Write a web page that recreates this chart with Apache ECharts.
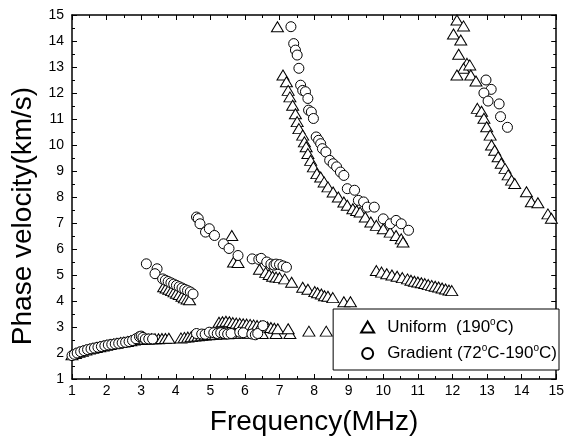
<!DOCTYPE html>
<html><head><meta charset="utf-8">
<script src="https://cdn.jsdelivr.net/npm/echarts@6/dist/echarts.min.js"></script>
<style>html,body{margin:0;padding:0;background:#fff}#c{width:567px;height:443px}</style>
</head><body><div id="c"></div><script>
const xTicks = {min: 1, max: 15, step: 1};
const yTicks = {min: 1, max: 15, step: 1};
const xTitle = 'Frequency(MHz)';
const yTitle = 'Phase velocity(km/s)';
const seriesNames = ['Uniform', 'Gradient'];

const uniformData = [
  [1.0,1.93],[1.1,1.98],[1.2,2.03],[1.3,2.07],[1.4,2.11],[1.5,2.15],[1.6,2.18],[1.7,2.21],[1.8,2.24],[1.9,2.27],
  [2.0,2.3],[2.1,2.33],[2.2,2.35],[2.3,2.37],[2.4,2.4],[2.5,2.42],[2.6,2.44],[2.7,2.47],[2.8,2.5],[2.9,2.52],
  [3.0,2.53],[3.1,2.54],[3.2,2.54],[3.3,2.55],[3.4,2.55],[3.5,2.55],[3.6,2.56],[3.7,2.56],[3.8,2.57],
  [4.15,2.58],[4.25,2.6],[4.35,2.61],[4.45,2.63],[4.55,2.65],[4.65,2.66],[4.75,2.68],[4.85,2.69],[4.95,2.7],
  [5.05,2.71],[5.15,2.72],[5.3,2.73],[5.5,2.74],[5.7,2.75],[5.9,2.76],[6.1,2.76],[6.3,2.77],[6.5,2.75],
  [6.9,2.75],[7.3,2.75],[7.85,2.84],[8.35,2.84],
  [5.25,3.18],[5.35,3.2],[5.45,3.22],[5.55,3.2],[5.65,3.17],[5.75,3.15],[5.85,3.14],[5.95,3.12],[6.05,3.11],
  [6.15,3.1],[6.25,3.08],[6.35,3.06],[6.45,3.04],[6.55,3.02],[6.65,3.0],[6.75,2.98],[6.85,2.95],[6.95,2.93],[7.25,2.93],
  [3.65,4.55],[3.72,4.5],[3.8,4.45],[3.88,4.4],[3.95,4.35],[4.02,4.3],[4.1,4.25],[4.18,4.18],[4.25,4.12],[4.33,4.08],[4.4,4.05],
  [5.62,6.52],[5.67,5.5],[5.8,5.48],[6.42,5.22],[6.6,5.1],[6.7,5.02],[6.8,4.95],[6.9,4.92],[7.0,4.9],[7.15,4.85],
  [7.35,4.72],[7.67,4.53],[7.82,4.45],[8.02,4.36],[8.1,4.32],[8.21,4.27],[8.3,4.2],[8.4,4.18],[8.54,4.13],[8.86,3.97],[9.05,3.97],
  [6.94,14.55],[7.1,12.69],[7.2,12.43],[7.25,12.1],[7.3,11.85],[7.38,11.53],[7.46,11.2],[7.51,10.9],[7.56,10.63],
  [7.67,10.38],[7.72,10.12],[7.77,9.93],[7.82,9.67],[7.9,9.41],[7.98,9.16],[8.08,8.9],[8.19,8.77],[8.29,8.58],
  [8.4,8.39],[8.55,8.19],[8.7,8.0],[8.86,7.81],[8.96,7.68],[9.12,7.55],[9.23,7.48],[9.33,7.42],[9.48,7.23],[9.64,7.04],
  [9.8,6.91],[10.0,6.78],[10.2,6.65],[10.37,6.52],[10.52,6.39],[10.57,6.27],
  [9.8,5.17],[9.95,5.11],[10.1,5.05],[10.25,5.0],[10.4,4.95],[10.55,4.9],[10.7,4.85],[10.8,4.8],[10.9,4.76],
  [11.0,4.73],[11.1,4.7],[11.2,4.67],[11.3,4.63],[11.4,4.6],[11.5,4.57],[11.6,4.54],[11.7,4.5],[11.8,4.46],[11.9,4.42],[11.98,4.4],
  [12.13,14.81],[12.32,14.58],[12.03,14.27],[12.24,14.04],[12.18,13.49],[12.42,13.14],[12.32,12.95],[12.5,13.08],
  [12.13,12.69],[12.53,12.69],[12.68,12.46],[12.72,11.41],[12.84,11.3],[12.91,11.03],[12.99,10.7],[13.09,10.38],
  [13.13,10.0],[13.22,9.8],[13.32,9.55],[13.41,9.3],[13.52,9.1],[13.61,8.85],[13.71,8.65],[13.8,8.52],
  [14.14,8.2],[14.28,7.82],[14.47,7.78],[14.76,7.35],[14.86,7.18]
];

const gradientData = [
  [1.0,1.9],[1.07,1.95],[1.15,2.0],[1.25,2.05],[1.35,2.09],[1.45,2.13],[1.55,2.16],[1.65,2.19],[1.75,2.22],
  [1.85,2.25],[1.95,2.28],[2.05,2.31],[2.15,2.33],[2.25,2.35],[2.35,2.37],[2.45,2.39],[2.55,2.41],[2.65,2.44],
  [2.75,2.48],[2.85,2.55],[2.95,2.63],[3.0,2.65],[3.05,2.6],[3.12,2.54],[3.22,2.54],[3.33,2.54],
  [4.6,2.75],[4.75,2.73],[4.85,2.72],[4.97,2.8],[5.1,2.78],[5.2,2.75],[5.3,2.78],[5.4,2.75],[5.5,2.73],
  [5.6,2.75],[5.85,2.8],[5.95,2.78],[6.2,2.73],[6.3,2.7],[6.37,2.75],[6.52,3.05],
  [3.15,5.43],[3.46,5.24],[3.4,5.05],[3.62,4.85],[3.7,4.8],[3.78,4.75],[3.86,4.7],[3.94,4.65],[4.02,4.6],
  [4.1,4.55],[4.18,4.5],[4.26,4.45],[4.34,4.4],[4.42,4.35],[4.5,4.27],
  [4.6,7.23],[4.65,7.17],[4.7,6.97],[4.86,6.65],[4.97,6.78],[5.12,6.52],[5.38,6.2],[5.54,6.02],[5.8,5.75],
  [6.21,5.62],[6.4,5.6],[6.47,5.64],[6.63,5.5],[6.75,5.42],[6.84,5.38],[6.9,5.42],[7.0,5.4],[7.1,5.35],[7.2,5.3],
  [7.33,14.55],[7.41,13.9],[7.46,13.65],[7.51,13.46],[7.56,12.95],[7.61,12.3],[7.67,12.1],[7.75,12.05],[7.82,11.79],
  [7.84,11.34],[7.92,11.27],[7.98,11.02],[8.06,10.31],[8.13,10.18],[8.19,10.05],[8.24,9.86],[8.34,9.73],
  [8.45,9.41],[8.55,9.28],[8.65,9.16],[8.76,8.96],[8.86,8.83],[8.96,8.32],[9.17,8.26],[9.28,7.87],[9.43,7.81],
  [9.54,7.61],[9.74,7.61],[10.0,7.16],[10.2,6.97],[10.37,7.1],[10.52,6.97],[10.73,6.72],
  [12.97,12.5],[13.12,12.14],[12.91,12.0],[13.03,11.69],[13.35,11.58],[13.39,11.09],[13.59,10.68]
];

const FONT = 'Liberation Sans, Arial, sans-serif';
const chart = echarts.init(document.getElementById('c'), null, {renderer: 'canvas'});

function axisBase(extra) {
  return Object.assign({
    type: 'value',
    axisLine: {show: true, onZero: false, lineStyle: {color: '#000', width: 1.5}},
    axisTick: {show: true, inside: true, length: 5, lineStyle: {color: '#000', width: 1}},
    minorTick: {show: true, splitNumber: 2, length: 3, lineStyle: {color: '#000', width: 1}},
    splitLine: {show: false},
    minorSplitLine: {show: false}
  }, extra);
}

chart.setOption({
  animation: false,
  backgroundColor: '#fff',
  grid: {left: 72, right: 8, top: 15, bottom: 64, containLabel: false},
  xAxis: [
    axisBase({min: xTicks.min, max: xTicks.max, interval: xTicks.step, position: 'bottom',
      name: xTitle, nameLocation: 'middle', nameGap: 29,
      nameTextStyle: {fontFamily: FONT, fontSize: 28, color: '#000'},
      axisLabel: {fontFamily: FONT, fontSize: 14, color: '#000', margin: 5}}),
    axisBase({min: xTicks.min, max: xTicks.max, interval: xTicks.step, position: 'top',
      axisLabel: {show: false}})
  ],
  yAxis: [
    axisBase({min: yTicks.min, max: yTicks.max, interval: yTicks.step, position: 'left',
      name: yTitle, nameLocation: 'middle', nameGap: 34,
      nameTextStyle: {fontFamily: FONT, fontSize: 28, color: '#000', padding: [0, 38, 0, 0]},
      axisLabel: {fontFamily: FONT, fontSize: 14, color: '#000', margin: 8}}),
    axisBase({min: yTicks.min, max: yTicks.max, interval: yTicks.step, position: 'right',
      axisLabel: {show: false}})
  ],
  legend: {
    orient: 'vertical', right: 8, top: 309,
    padding: [8, 2, 8, 27], itemGap: 8, itemWidth: 13, itemHeight: 11,
    backgroundColor: '#fff', borderColor: '#000', borderWidth: 1,
    data: seriesNames,
    formatter: function (name) {
      return name === 'Uniform'
        ? '{t|Uniform  (190}{s|o}{t|C)}'
        : '{t|Gradient (72}{s|o}{t|C-190}{s|o}{t|C)}';
    },
    textStyle: {
      fontFamily: FONT, fontSize: 17, color: '#000', padding: [0, 0, 0, 8],
      rich: {
        t: {fontFamily: FONT, fontSize: 17, color: '#000', lineHeight: 20},
        s: {fontFamily: FONT, fontSize: 10, color: '#000', lineHeight: 10, verticalAlign: 'top'}
      }
    }
  },
  series: [
    {name: seriesNames[0], type: 'scatter', data: uniformData, symbol: 'triangle', symbolSize: [12, 10],
      itemStyle: {color: '#fff', borderColor: '#000', borderWidth: 1, opacity: 1}, z: 2},
    {name: seriesNames[1], type: 'scatter', data: gradientData, symbol: 'circle', symbolSize: 10,
      itemStyle: {color: '#fff', borderColor: '#000', borderWidth: 1, opacity: 1}, z: 3}
  ]
});
</script></body></html>
